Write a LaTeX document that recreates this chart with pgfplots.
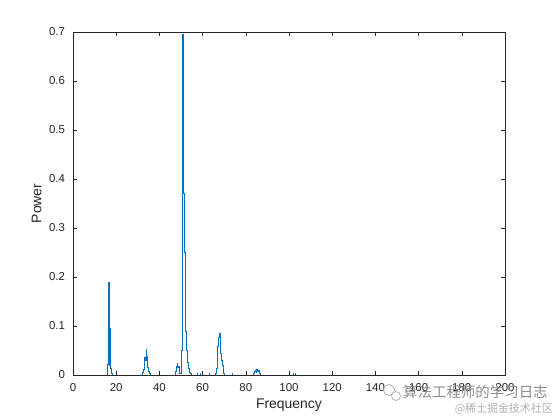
\documentclass[border=0pt]{standalone}
\usepackage{pgfplots}
\pgfplotsset{compat=1.18}
\usepackage{fontspec}
\setmainfont{Liberation Sans}
\newfontfamily\cjk{Noto Sans CJK SC}
\definecolor{mblue}{RGB}{0,114,189}
\definecolor{mgray}{RGB}{38,38,38}
\definecolor{wm}{RGB}{140,140,140}
\definecolor{wm2}{RGB}{175,175,175}
\begin{document}
\begin{tikzpicture}
\useasboundingbox (0,0) rectangle (560bp,420bp);
\begin{axis}[
  at={(73bp,45bp)}, anchor=south west,
  width=432bp, height=343bp, scale only axis,
  xmin=0, xmax=200, ymin=0, ymax=0.7,
  xtick={0,20,...,200}, ytick={0,0.1,...,0.7},
  yticklabels={0,0.1,0.2,0.3,0.4,0.5,0.6,0.7},
  tick align=inside, tick pos=both,
  major tick length=4.3bp,
  axis line style={mgray, line width=0.5bp},
  every tick/.style={mgray, line width=0.5bp},
  /pgf/number format/assume math mode=true,
  tick label style={font=\fontsize{11.5}{13}\selectfont, text=mgray},
  xticklabel style={yshift=-4.5bp},
  yticklabel style={xshift=-4.5bp},
  xlabel={Frequency}, ylabel={Power},
  label style={font=\fontsize{14}{16}\selectfont, text=mgray},
  xlabel style={at={(axis description cs:0.5,-0.088)}, anchor=center},
  ylabel style={at={(axis description cs:-0.084,0.5)}, anchor=center},
  clip=true,
]
\addplot[mblue, line width=0.75bp, const plot mark mid] coordinates {
(0,0) (15.8,0) (16.2,0.022) (16.6,0.19) (17.0,0.02) (17.3,0.096) (17.7,0.014) (18.1,0.003) (18.5,0)
(31.8,0) (32.2,0.005) (32.7,0.012) (33.0,0.03) (33.3,0.035) (33.6,0.03) (33.9,0.053) (34.3,0.037) (34.6,0.015) (35.0,0.008) (35.4,0.003) (35.8,0)
(47.3,0) (47.7,0.008) (48.0,0.017) (48.3,0.024) (48.6,0.015) (48.9,0.017) (49.2,0.01) (49.7,0.003) (50.0,0.004)
(50.3,0.05) (50.6,0.38) (51.0,0.695) (51.4,0.37) (51.8,0.25) (52.0,0.19) (52.4,0.09) (52.7,0.05) (53.0,0.04) (53.3,0.025) (53.7,0.014) (54.1,0.005) (54.5,0.003) (54.9,0)
(57.2,0) (57.5,0.003) (57.8,0)
(58.7,0) (59.0,0.003) (59.3,0)
(62.8,0) (63.1,0.003) (63.4,0)
(65.9,0) (66.3,0.003) (66.7,0.014) (67.1,0.058) (67.4,0.076) (67.7,0.08) (68.0,0.085) (68.3,0.06) (68.6,0.045) (68.9,0.03) (69.2,0.02) (69.6,0.012) (70.0,0.004) (70.4,0)
(73.5,0) (73.8,0.003) (74.1,0)
(83.5,0) (83.9,0.003) (84.2,0.008) (84.6,0.01) (84.9,0.006) (85.3,0.011) (85.6,0.007) (86.0,0.01) (86.4,0.004) (86.8,0)
(101.7,0) (102.0,0.004) (102.3,0) (102.7,0) (103.0,0.003) (103.3,0)
(200,0)
};
\end{axis}
\draw[wm2, line width=0.8bp, fill=white] (389bp,30bp) circle (5.5bp);
\draw[wm2, line width=0.8bp, fill=white] (396bp,24bp) circle (4.5bp);
\node[anchor=west, inner sep=0pt, text=wm, font=\cjk\fontsize{14.5}{16}\selectfont] at (403bp,28bp) {算法工程师的学习日志};
\node[anchor=east, inner sep=0pt, text=wm2, font=\cjk\fontsize{11}{13}\selectfont] at (553bp,11bp) {@稀土掘金技术社区};
\end{tikzpicture}
\end{document}
